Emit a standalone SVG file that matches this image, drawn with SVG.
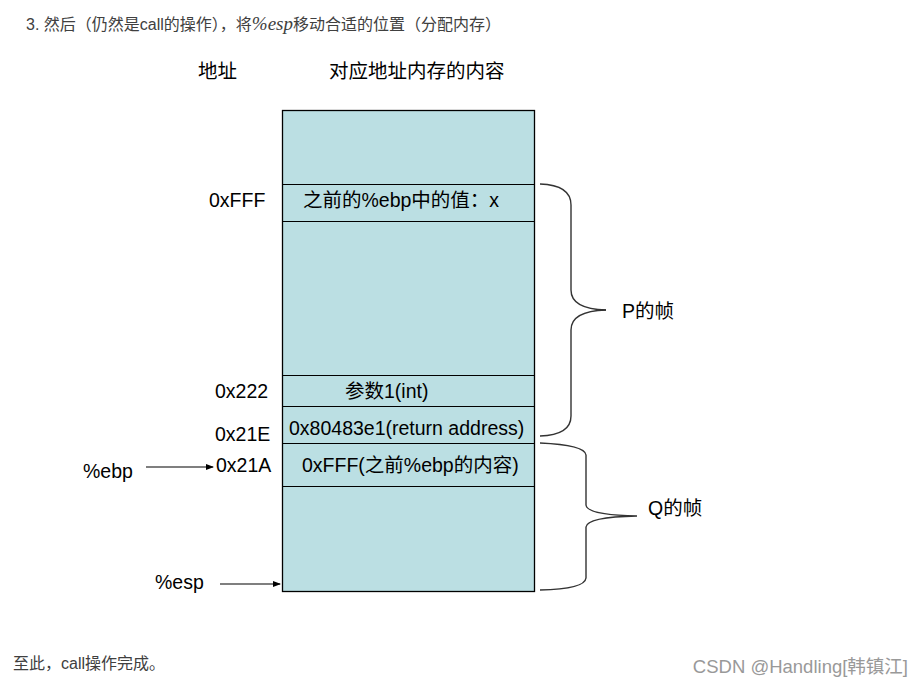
<svg xmlns="http://www.w3.org/2000/svg" width="921" height="688" viewBox="0 0 921 688">
<style>
.t{font-family:"Liberation Sans","Noto Sans CJK SC",sans-serif;font-size:19.5px;fill:#000}
.h{font-family:"Liberation Sans","Noto Sans CJK SC",sans-serif;font-size:16px;fill:#404040}
.cell{fill:#bbdfe3;stroke:#000;stroke-width:1.3}
.ln{stroke:#000;stroke-width:1.2}
.br{fill:none;stroke:#333;stroke-width:1.4}
</style>
<defs>
<marker id="ah" markerWidth="8" markerHeight="8" refX="7" refY="4" orient="auto" markerUnits="userSpaceOnUse">
<path d="M0,1 L8,4 L0,7 Z" fill="#000"/>
</marker>
</defs>
<rect width="921" height="688" fill="#fff"/>
<text class="h" x="26" y="30">3. 然后（仍然是call的操作），将<tspan font-family="'Liberation Serif',serif" font-style="italic" font-size="19">%esp</tspan>移动合适的位置（分配内存）</text>
<text class="t" x="198" y="78">地址</text>
<text class="t" x="329" y="78">对应地址内存的内容</text>

<g id="stack">
<rect class="cell" x="282.5" y="110.5" width="252" height="481"/>
<line class="ln" x1="282" y1="184.5" x2="535" y2="184.5"/>
<line class="ln" x1="282" y1="221.5" x2="535" y2="221.5"/>
<line class="ln" x1="282" y1="375.5" x2="535" y2="375.5"/>
<line class="ln" x1="282" y1="406.5" x2="535" y2="406.5"/>
<line class="ln" x1="282" y1="443.5" x2="535" y2="443.5"/>
<line class="ln" x1="282" y1="486.5" x2="535" y2="486.5"/>
</g>
<g id="cell-fff"><text class="t" x="303" y="207">之前的%ebp中的值：x</text><text class="t" x="209" y="207">0xFFF</text></g>
<g id="cell-222"><text class="t" x="345" y="398">参数1(int)</text><text class="t" x="215" y="398">0x222</text></g>
<g id="cell-21e"><text class="t" x="289" y="435">0x80483e1(return address)</text><text class="t" x="215" y="441">0x21E</text></g>
<g id="cell-21a"><text class="t" x="302" y="472">0xFFF(之前%ebp的内容)</text><text class="t" x="216" y="472">0x21A</text></g>
<g id="ebp"><text class="t" x="83" y="478">%ebp</text></g>
<g id="esp"><text class="t" x="155" y="589">%esp</text></g>
<g id="p-frame"><text class="t" x="622" y="318">P的帧</text></g>
<g id="q-frame"><text class="t" x="648" y="515">Q的帧</text></g>

<g id="connectors">
<line class="ln" x1="146" y1="467" x2="213" y2="467" marker-end="url(#ah)"/>
<line class="ln" x1="220" y1="584" x2="280" y2="584" marker-end="url(#ah)"/>
<path class="br" d="M540,184 Q571,185 571,205 L571,290 Q571,309 606,310 Q571,311 571,330 L571,416 Q571,435 540,436"/>
<line class="br" x1="598" y1="310" x2="606" y2="310"/>
<path class="br" d="M540,443 Q585,445 586,455 L586,505 Q587,515 637,516 Q587,517 586,527 L586,578 Q585,589 540,590"/>
</g>

<text class="h" x="13" y="669" font-size="15.5">至此，call操作完成。</text>
<text x="908" y="673" text-anchor="end" font-family="'Liberation Sans','Noto Sans CJK SC',sans-serif" font-size="18.5" fill="#999">CSDN @Handling[韩镇江]</text>
</svg>
